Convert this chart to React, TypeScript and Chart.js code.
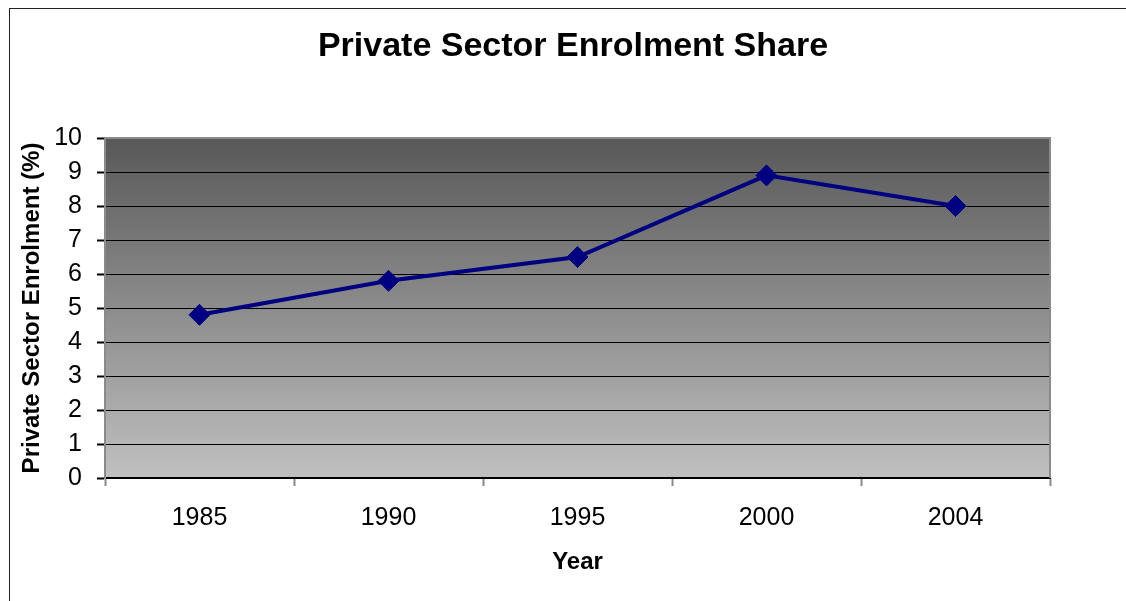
import React, { useEffect, useRef } from "react";
import { Chart, registerables } from "chart.js";

Chart.register(...registerables);

const years = ["1985", "1990", "1995", "2000", "2004"];
const privateShare = [4.8, 5.8, 6.5, 8.9, 8.0];
const chartTitle = "Private Sector Enrolment Share";
const xTitle = "Year";
const yTitle = "Private Sector Enrolment (%)";

const FONT = "'Liberation Sans', Arial, sans-serif";

const plotBg = {
  id: "plotBg",
  beforeDraw(chart: any) {
    const { ctx, chartArea } = chart;
    const { left, top, right, bottom } = chartArea;
    const g = ctx.createLinearGradient(0, top, 0, bottom);
    g.addColorStop(0, "#585858");
    g.addColorStop(1, "#c0c0c0");
    ctx.save();
    ctx.fillStyle = g;
    ctx.fillRect(left, top, right - left, bottom - top);
    ctx.restore();
  },
  beforeDatasetsDraw(chart: any) {
    const { ctx, chartArea } = chart;
    const { left, top, right, bottom } = chartArea;
    ctx.save();
    ctx.strokeStyle = "#8a8a8a";
    ctx.lineWidth = 2;
    ctx.beginPath();
    ctx.moveTo(left, top);
    ctx.lineTo(right, top);
    ctx.lineTo(right, bottom);
    ctx.stroke();
    ctx.restore();
  },
};

export default function App() {
  const ref = useRef<HTMLCanvasElement | null>(null);
  useEffect(() => {
    if (!ref.current) return;
    const chart = new Chart(ref.current, {
      type: "line",
      data: {
        labels: years,
        datasets: [
          {
            data: privateShare,
            borderColor: "#000080",
            backgroundColor: "#000080",
            borderWidth: 4,
            pointStyle: "rectRot",
            pointRadius: 10.5,
            pointBorderWidth: 1,
            pointBackgroundColor: "#000080",
            pointBorderColor: "#000080",
            tension: 0,
          },
        ],
      },
      options: {
        responsive: false,
        animation: false,
        devicePixelRatio: 1,
        layout: { padding: { left: 20, right: 0, top: 0, bottom: 0 } },
        plugins: {
          legend: { display: false },
          tooltip: { enabled: false },
          title: {
            display: true,
            text: chartTitle,
            color: "#000",
            font: { family: FONT, size: 34, weight: "bold", lineHeight: 1.2 },
            padding: { top: 26, bottom: 71.2 },
          },
        },
        scales: {
          x: {
            type: "category",
            offset: true,
            afterFit: (s: any) => {
              s.height = 123;
            },
            grid: {
              offset: true,
              drawOnChartArea: false,
              drawTicks: true,
              tickLength: 8,
              tickColor: "#8a8a8a",
              tickWidth: 2,
            },
            border: { color: "#000", width: 2 },
            ticks: {
              color: "#000",
              font: { family: FONT, size: 25 },
              padding: 17,
              maxRotation: 0,
            },
            title: {
              display: true,
              text: xTitle,
              color: "#000",
              font: { family: FONT, size: 24, weight: "bold" },
              padding: { top: 0, bottom: 24 },
            },
          },
          y: {
            min: 0,
            max: 10,
            afterFit: (s: any) => {
              s.width = 85;
            },
            grid: {
              color: (c: any) =>
                c.tick && (c.tick.value === 0 || c.tick.value === 10) ? "rgba(0,0,0,0)" : "#000",
              lineWidth: 1,
              tickColor: "#000",
              tickLength: 8,
              tickWidth: 2,
            },
            border: { color: "#8a8a8a", width: 2 },
            ticks: {
              stepSize: 1,
              color: "#000",
              font: { family: FONT, size: 25 },
              padding: 15,
            },
            title: {
              display: true,
              text: yTitle,
              color: "#000",
              font: { family: FONT, size: 24, weight: "bold", lineHeight: 1 },
              padding: { top: 0, bottom: 0 },
            },
          },
          yRight: {
            position: "right",
            display: true,
            afterFit: (s: any) => {
              s.width = 76;
            },
            grid: { drawOnChartArea: false, drawTicks: false },
            border: { display: false },
            ticks: { display: false },
          },
        },
      },
      plugins: [plotBg],
    });
    return () => chart.destroy();
  }, []);

  return (
    <div
      style={{
        position: "fixed",
        left: 0,
        top: 0,
        width: 1126,
        height: 601,
        overflow: "hidden",
        background: "#fff",
      }}
    >
      <div
        style={{
          position: "absolute",
          left: 9,
          top: 8,
          width: 1200,
          height: 700,
          borderLeft: "1px solid #222",
          borderTop: "1px solid #222",
        }}
      />
      <canvas
        ref={ref}
        width={1126}
        height={601}
        style={{ position: "absolute", left: 0, top: 0, width: 1126, height: 601 }}
      />
    </div>
  );
}
